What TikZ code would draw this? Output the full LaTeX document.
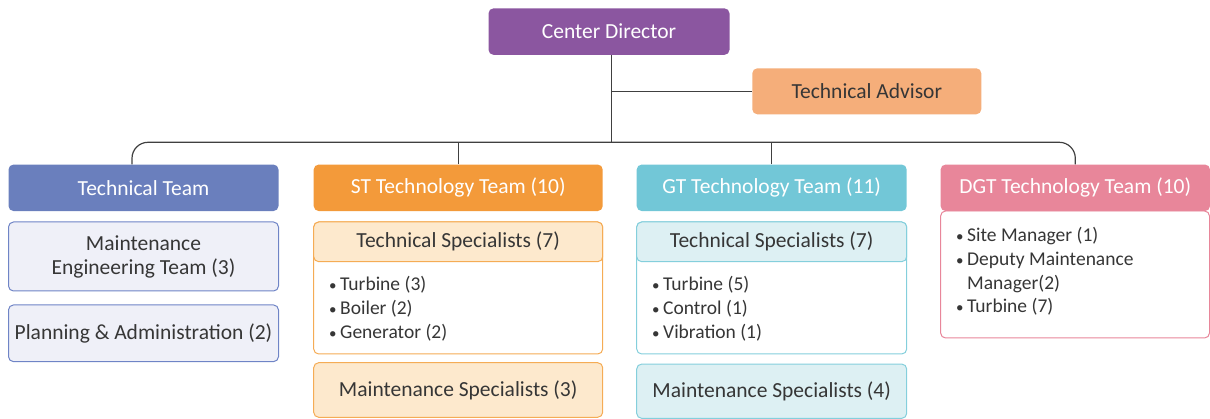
\documentclass[tikz,border=0pt]{standalone}
\usepackage{fontspec}
\setmainfont{Carlito}
\definecolor{cpurple}{HTML}{8B56A0}
\definecolor{cadv}{HTML}{F5AE7A}
\definecolor{cblue}{HTML}{6A7FBD}
\definecolor{corange}{HTML}{F39A3A}
\definecolor{ccyan}{HTML}{72C7D7}
\definecolor{cpink}{HTML}{E8869A}
\definecolor{lblue}{HTML}{EFF0F8}
\definecolor{lblueb}{HTML}{6F84C6}
\definecolor{lorange}{HTML}{FDE9CD}
\definecolor{lorangeb}{HTML}{F5AC55}
\definecolor{lcyan}{HTML}{DDF0F3}
\definecolor{lcyanb}{HTML}{84CFDC}
\definecolor{txt}{HTML}{363636}
\definecolor{conn}{HTML}{404040}
\newcommand{\bdot}{\makebox[11pt][l]{\fontsize{15}{15}\selectfont •}}
\begin{document}
\begin{tikzpicture}[x=1pt,y=-1pt,
  box/.style={rounded corners=5pt, inner sep=0pt, align=center},
  tier/.style={box, text=white, font=\fontsize{21.5}{25}\selectfont},
  sub/.style={box, text=txt, line width=1pt, font=\fontsize{21.5}{24}\selectfont},
  bul/.style={anchor=base west, inner sep=0pt, text=txt, font=\fontsize{19.5}{24}\selectfont},
  conline/.style={draw=conn, line width=1.2pt}]
\useasboundingbox (0,0) rectangle (1210,419);

% top level
\node[tier, fill=cpurple, minimum width=241pt, minimum height=46.5pt] (dir) at (609,31.6) {Center Director};
\node[tier, fill=cadv, text=txt, minimum width=229pt, minimum height=46pt] (adv) at (866.8,91.3) {Technical Advisor};

% tier 2
\node[tier, fill=cblue, minimum width=270pt, minimum height=46.5pt] (tt) at (143.5,187.8) {Technical Team};
\node[tier, fill=corange, minimum width=289pt, minimum height=46.5pt] (st) at (458.2,187.8) {ST Technology Team (10)};
\node[tier, fill=ccyan, minimum width=270pt, minimum height=46.5pt] (gt) at (771.7,187.8) {GT Technology Team (11)};

% connectors
\coordinate (j) at (611.6,142.3);
\draw[conline] (j |- dir.south) -- (j);
\draw[conline] (j |- adv.west) -- (adv.west);
\draw[conline] (st.north) -- (st.north |- j);
\draw[conline] (gt.north) -- (gt.north |- j);

% Technical team children
\node[sub, fill=lblue, draw=lblueb, minimum width=270pt, minimum height=69pt] (me) at (143.5,256.5) {Maintenance\\Engineering Team (3)};
\node[sub, fill=lblue, draw=lblueb, minimum width=270pt, minimum height=56.7pt] (pa) at (143.5,333.3) {Planning \& Administration (2)};

% ST children
\node[sub, fill=white, draw=lorangeb, minimum width=289pt, minimum height=132pt] (stbody) at (458.2,288) {};
\node[sub, fill=lorange, draw=lorangeb, minimum width=289pt, minimum height=39.7pt] (stts) at (458.2,241.85) {Technical Specialists (7)};
\node[bul] (st1) at (329,291) {\bdot Turbine (3)};
\node[bul] (st2) at (329,315) {\bdot Boiler (2)};
\node[bul] (st3) at (329,339) {\bdot Generator (2)};
\node[sub, fill=lorange, draw=lorangeb, minimum width=289pt, minimum height=54.6pt] (stms) at (458.2,390) {Maintenance Specialists (3)};

% GT children
\node[sub, fill=white, draw=lcyanb, minimum width=270pt, minimum height=132pt] (gtbody) at (771.7,288) {};
\node[sub, fill=lcyan, draw=lcyanb, minimum width=270pt, minimum height=39.7pt] (gtts) at (771.7,241.85) {Technical Specialists (7)};
\node[bul] (gt1) at (652,291) {\bdot Turbine (5)};
\node[bul] (gt2) at (652,315) {\bdot Control (1)};
\node[bul] (gt3) at (652,339) {\bdot Vibration (1)};
\node[sub, fill=lcyan, draw=lcyanb, minimum width=270pt, minimum height=54.3pt] (gtms) at (771.7,391.2) {Maintenance Specialists (4)};

% DGT: body first, then header over it
\node[sub, fill=white, draw=cpink, minimum width=268.9pt, minimum height=127pt] (dgtbody) at (1075.05,274.5) {};
\node[tier, fill=cpink, minimum width=269.4pt, minimum height=46.5pt] (dgt) at (1075.3,187.8) {DGT Technology Team (10)};
\node[bul] (d1) at (956,241.5) {\bdot Site Manager (1)};
\node[bul] (d2) at (956,265.5) {\bdot Deputy Maintenance};
\node[bul] (d3) at (956,289.5) {\hspace{11pt}Manager(2)};
\node[bul] (d4) at (956,313) {\bdot Turbine (7)};

\draw[conline, rounded corners=16pt] ([xshift=-11.5pt]tt.north) |- (j -| dgt.north) -- (dgt.north);
\end{tikzpicture}
\end{document}
